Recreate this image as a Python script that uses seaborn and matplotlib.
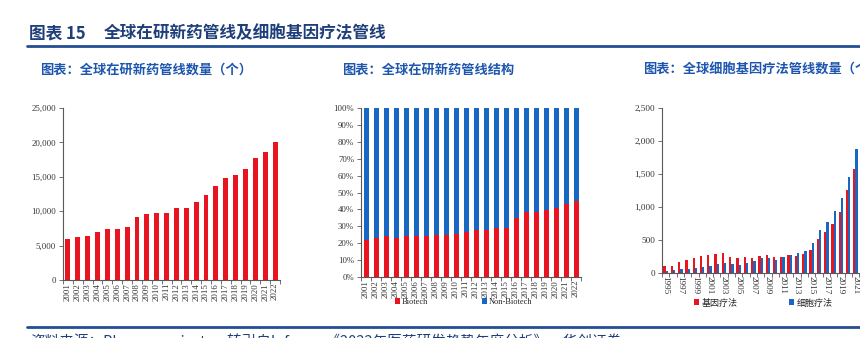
import matplotlib
matplotlib.use("Agg")
import matplotlib.pyplot as plt
import seaborn as sns
import pandas as pd
from matplotlib.ticker import FuncFormatter, FixedLocator, MultipleLocator
from matplotlib.patches import Patch
from matplotlib.lines import Line2D

# ---------------- data ----------------
years_a = [str(y) for y in range(2001, 2023)]
pipeline_counts = [5950, 6190, 6380, 7010, 7350, 7400, 7690, 9190, 9620, 9720, 9700,
                   10450, 10450, 11300, 12300, 13700, 14870, 15270, 16180, 17740, 18580, 20110]

biotech_share = [22.1, 23.1, 24.1, 23.3, 24.1, 24.1, 24.5, 24.7, 24.7, 25.4, 26.8,
                 27.8, 27.8, 29.2, 29.2, 35.1, 38.5, 38.5, 39.8, 40.8, 43.4, 45.2]
nonbiotech_share = [77.9, 76.9, 75.9, 76.7, 75.9, 75.9, 75.5, 75.3, 75.3, 74.6, 73.2,
                    72.2, 72.2, 70.8, 70.8, 64.9, 61.5, 61.5, 60.2, 59.2, 56.6, 54.8]

years_c = [str(y) for y in range(1995, 2022)]
gene_therapy = [111, 111, 172, 192, 222, 258, 278, 283, 308, 247, 222, 237, 222, 258,
                278, 247, 242, 268, 258, 283, 354, 520, 616, 742, 929, 1263, 1581]
cell_therapy = [25, 45, 61, 61, 81, 96, 106, 141, 157, 136, 121, 146, 182, 222,
                222, 197, 242, 278, 308, 338, 455, 657, 778, 939, 1141, 1460, 1874]

series_labels_b = ["Biotech", "Non-Biotech"]
series_labels_c = ["基因疗法", "细胞疗法"]

main_title_num = "图表 15"
main_title = "全球在研新药管线及细胞基因疗法管线"
sub_titles = ["图表：全球在研新药管线数量（个）", "图表：全球在研新药管线结构",
              "图表：全球细胞基因疗法管线数量（个）"]
source_text = "资料来源：Pharmaprojects，转引自Informa《2022年医药研发趋势年度分析》，华创证券"

# ---------------- style ----------------
RED = "#E8141F"
BLUE = "#1767C3"
NAVY = "#1F3F7A"
SUBBLUE = "#1D56AE"
SPINE = "#595959"
CJK = ["Noto Sans CJK SC", "DejaVu Sans"]
BAR_KW = dict(saturation=1, edgecolor="none", linewidth=0)

sns.set_theme(style="white")
plt.rcParams["font.family"] = ["Liberation Serif", "Noto Sans CJK SC", "DejaVu Sans"]
plt.rcParams["patch.force_edgecolor"] = False

W, H = 860, 338
fig = plt.figure(figsize=(W / 100, H / 100), dpi=100)


def axes_px(left, top, right, bottom):
    return fig.add_axes([left / W, (H - bottom) / H, (right - left) / W, (bottom - top) / H])


def style_axes(ax, n, rot, size=6.3):
    for s in ["top", "right"]:
        ax.spines[s].set_visible(False)
    for s in ["left", "bottom"]:
        ax.spines[s].set_color(SPINE)
        ax.spines[s].set_linewidth(0.8)
    ax.set_xlabel("")
    ax.set_ylabel("")
    ax.tick_params(axis="y", which="major", direction="out", length=3, width=0.6,
                   color=SPINE, labelsize=size, pad=2, labelcolor="#333333", left=True)
    ax.tick_params(axis="x", which="major", length=0, labelsize=size, pad=2,
                   labelcolor="#333333", rotation=rot)
    ax.xaxis.set_minor_locator(FixedLocator([i + 0.5 for i in range(-1, n)]))
    ax.tick_params(axis="x", which="minor", direction="out", length=3, width=0.6,
                   color=SPINE, bottom=True)
    ax.grid(False)


# ---------------- chart 1 ----------------
ax1 = axes_px(63, 108, 280, 280)
df1 = pd.DataFrame({"year": years_a, "count": pipeline_counts})
sns.barplot(data=df1, x="year", y="count", color=RED, width=0.5, ax=ax1, **BAR_KW)
ax1.set_xlim(-0.5, len(years_a) - 0.5)
ax1.set_ylim(0, 25000)
ax1.yaxis.set_major_locator(MultipleLocator(5000))
ax1.yaxis.set_major_formatter(FuncFormatter(lambda v, p: f"{int(v):,}"))
style_axes(ax1, len(years_a), 90)

# ---------------- chart 2 ----------------
ax2 = axes_px(361, 108, 581, 277)
df2 = pd.DataFrame({"year": years_a, "biotech": biotech_share, "non": nonbiotech_share})
df2["stack"] = df2["biotech"] + df2["non"]
sns.barplot(data=df2, x="year", y="stack", color=BLUE, width=0.5, ax=ax2, **BAR_KW)
sns.barplot(data=df2, x="year", y="biotech", color=RED, width=0.5, ax=ax2, **BAR_KW)
ax2.set_xlim(-0.5, len(years_a) - 0.5)
ax2.set_ylim(0, 100)
ax2.yaxis.set_major_locator(MultipleLocator(10))
ax2.yaxis.set_major_formatter(FuncFormatter(lambda v, p: f"{int(round(v))}%"))
style_axes(ax2, len(years_a), 90)

h2 = [Patch(facecolor=RED, edgecolor="none"), Patch(facecolor=BLUE, edgecolor="none")]
fig.legend(h2, series_labels_b, loc="center left", bbox_to_anchor=(395 / W, 1 - 302 / H),
           ncol=2, frameon=False, handlelength=0.6, handleheight=0.6, handletextpad=0.2,
           columnspacing=6.5, borderpad=0, borderaxespad=0,
           prop={"family": ["Liberation Serif"], "size": 6})

# ---------------- chart 3 ----------------
ax3 = axes_px(662, 108, 662 + 7.3 * 28, 273)
df3 = pd.DataFrame({
    "year": years_c * 2,
    "type": [series_labels_c[0]] * len(years_c) + [series_labels_c[1]] * len(years_c),
    "value": gene_therapy + cell_therapy,
})
sns.barplot(data=df3, x="year", y="value", hue="type", palette=[RED, BLUE], width=0.64,
            ax=ax3, legend=False, **BAR_KW)
ax3.set_xlim(-0.5, 27.5)
ax3.set_ylim(0, 2500)
ax3.yaxis.set_major_locator(MultipleLocator(500))
ax3.yaxis.set_major_formatter(FuncFormatter(lambda v, p: f"{int(v):,}"))
ax3.set_xticks(list(range(0, len(years_c), 2)))
ax3.set_xticklabels(years_c[::2])
style_axes(ax3, 28, 270, size=6.6)
for lab in ax3.get_xticklabels():
    lab.set_rotation(270)
    lab.set_va("top")
    lab.set_ha("center")

h3 = [Patch(facecolor=RED, edgecolor="none"), Patch(facecolor=BLUE, edgecolor="none")]
fig.legend(h3, series_labels_c, loc="center left", bbox_to_anchor=(694 / W, 1 - 303 / H),
           ncol=2, frameon=False, handlelength=0.6, handleheight=0.6, handletextpad=0.3,
           columnspacing=5.6, borderpad=0, borderaxespad=0,
           prop={"family": CJK, "size": 6.5})

# ---------------- titles & decorations ----------------
fig.text(29 / W, 1 - 33 / H, main_title_num, family=CJK, fontsize=12, fontweight="bold",
         color=NAVY, va="center", ha="left")
fig.text(104 / W, 1 - 33 / H, main_title, family=CJK, fontsize=12, fontweight="bold",
         color=NAVY, va="center", ha="left")
fig.add_artist(Line2D([27 / W, 1.0], [1 - 46 / H, 1 - 46 / H], color="#234E93", lw=2,
                      transform=fig.transFigure))

sub_x = [40, 342, 643]
for x, t in zip(sub_x, sub_titles):
    fig.text(x / W, 1 - 70 / H, t, family=CJK, fontsize=9.5, fontweight="bold",
             color=SUBBLUE, va="center", ha="left")

fig.add_artist(Line2D([27 / W, 1.0], [1 - 326.5 / H, 1 - 326.5 / H], color="#234E93", lw=2,
                      transform=fig.transFigure))
fig.text(30 / W, 1 - 333 / H, source_text, family=CJK, fontsize=10.5, style="italic",
         color=NAVY, va="top", ha="left")

fig.savefig("out.png", dpi=100)
